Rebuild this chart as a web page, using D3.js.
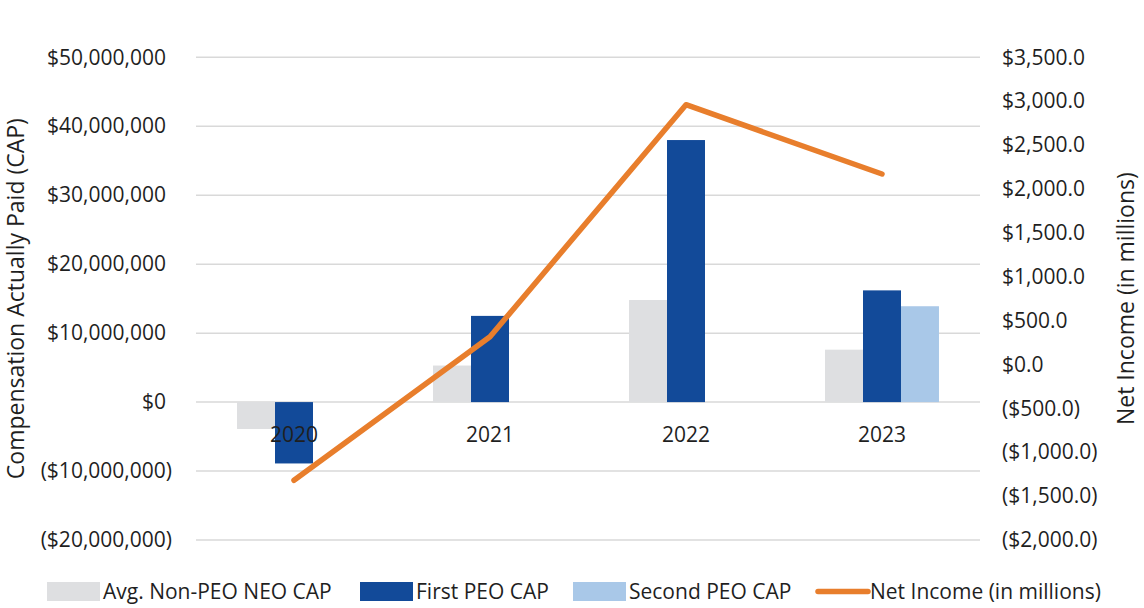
<!DOCTYPE html>
<html><head><meta charset="utf-8">
<script src="https://cdn.jsdelivr.net/npm/d3@7"></script>
<style>
html,body{margin:0;padding:0;background:#fff;}
text{font-family:"Open Sans",sans-serif;fill:#1f1f1f;}
</style></head>
<body><svg id="c" width="1144" height="608"></svg>
<script>
const years = ["2020","2021","2022","2023"];
const seriesNames = ["Avg. Non-PEO NEO CAP","First PEO CAP","Second PEO CAP"];
const avgNonPeo = [-3900000, 5300000, 14800000, 7600000];
const firstPeo = [-8900000, 12500000, 38000000, 16200000];
const secondPeo = [null, null, null, 13900000];
const netIncome = [-1320, 316, 2960, 2170];
const leftTicks = [-20000000,-10000000,0,10000000,20000000,30000000,40000000,50000000];
const rightTicks = [-2000,-1500,-1000,-500,0,500,1000,1500,2000,2500,3000,3500];
const lineName = "Net Income (in millions)";
const colors = ["#dedfe1","#124a99","#a9c8e8"];
const lineColor = "#e87e2c";

const FS = 21;
const svg = d3.select("#c");
const plotL = 196, plotR = 980, plotT = 57.3, plotB = 540;

const x0 = d3.scaleBand().domain(years).range([plotL, plotR]).padding(0);
const x1 = d3.scaleBand().domain(seriesNames).range([0, x0.bandwidth()]).paddingInner(0).paddingOuter(1.08);
const yL = d3.scaleLinear().domain([-20000000, 50000000]).range([plotB, plotT]);
const yR = d3.scaleLinear().domain([-2000, 3500]).range([plotB, plotT]);

// gridlines
svg.append("g").selectAll("line").data(leftTicks).join("line")
  .attr("x1", plotL).attr("x2", plotR)
  .attr("y1", d => yL(d)).attr("y2", d => yL(d))
  .attr("stroke", "#d9d9d9").attr("stroke-width", 1.5);

// left axis labels
const fmtL = d => {
  const s = "$" + d3.format(",")(Math.abs(d));
  return d < 0 ? "(" + s + ")" : s;
};
const axL = svg.append("g").attr("transform", `translate(172,0)`)
  .call(d3.axisLeft(yL).tickValues(leftTicks).tickFormat(fmtL).tickSize(0).tickPadding(0));
axL.select(".domain").remove();
axL.selectAll("text").attr("font-size", FS).attr("font-family", "Open Sans").attr("fill", "#1f1f1f")
  .attr("dx", d => d < 0 ? 0 : -6);

// right axis labels
const fmtR = d => {
  const s = "$" + d3.format(",.1f")(Math.abs(d));
  return d < 0 ? "(" + s + ")" : s;
};
const axR = svg.append("g").attr("transform", `translate(1002,0)`)
  .call(d3.axisRight(yR).tickValues(rightTicks).tickFormat(fmtR).tickSize(0).tickPadding(0));
axR.select(".domain").remove();
axR.selectAll("text").attr("font-size", FS).attr("font-family", "Open Sans").attr("fill", "#1f1f1f");

// bars
const seriesData = [avgNonPeo, firstPeo, secondPeo];
seriesData.forEach((vals, si) => {
  svg.append("g").selectAll("rect").data(vals.map((v, i) => ({v, y: years[i]})).filter(d => d.v !== null))
    .join("rect")
    .attr("x", d => x0(d.y) + x1(seriesNames[si]))
    .attr("width", x1.bandwidth())
    .attr("y", d => Math.min(yL(d.v), yL(0)))
    .attr("height", d => Math.abs(yL(d.v) - yL(0)))
    .attr("fill", colors[si]);
});

// category labels
svg.append("g").selectAll("text").data(years).join("text")
  .attr("x", d => x0(d) + x0.bandwidth() / 2)
  .attr("y", yL(0) + 40)
  .attr("text-anchor", "middle").attr("font-size", FS)
  .text(d => d);

// line
const line = d3.line().x((d, i) => x0(years[i]) + x0.bandwidth() / 2).y(d => yR(d));
svg.append("path").datum(netIncome).attr("d", line)
  .attr("fill", "none").attr("stroke", lineColor).attr("stroke-width", 5.5)
  .attr("stroke-linecap", "round").attr("stroke-linejoin", "round");

// axis titles
svg.append("text").attr("transform", `translate(24,${(plotT + plotB) / 2}) rotate(-90)`)
  .attr("text-anchor", "middle").attr("font-size", 23).text("Compensation Actually Paid (CAP)");
svg.append("text").attr("transform", `translate(1134,${(plotT + plotB) / 2}) rotate(-90)`)
  .attr("text-anchor", "middle").attr("font-size", 23).text("Net Income (in millions)");

// legend
const legendItems = [
  {name: seriesNames[0], color: colors[0], type: "rect", x: 47},
  {name: seriesNames[1], color: colors[1], type: "rect", x: 360},
  {name: seriesNames[2], color: colors[2], type: "rect", x: 573},
  {name: lineName, color: lineColor, type: "line", x: 815}
];
const lg = svg.append("g");
legendItems.forEach(it => {
  if (it.type === "rect") {
    lg.append("rect").attr("x", it.x).attr("y", 582).attr("width", 53).attr("height", 19).attr("fill", it.color);
    lg.append("text").attr("x", it.x + 56).attr("y", 599).attr("font-size", FS).attr("textLength", null).text(it.name);
  } else {
    lg.append("line").attr("x1", it.x + 3).attr("x2", it.x + 53).attr("y1", 591.5).attr("y2", 591.5)
      .attr("stroke", it.color).attr("stroke-width", 5.5).attr("stroke-linecap", "round");
    lg.append("text").attr("x", it.x + 55).attr("y", 599).attr("font-size", FS).text(it.name);
  }
});
</script></body></html>
